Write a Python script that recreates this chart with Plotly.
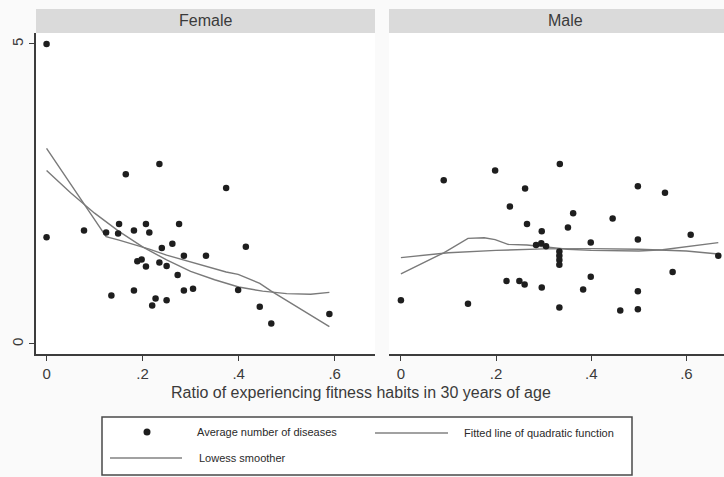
import plotly.graph_objects as go

# ---- data -------------------------------------------------------------
female_x = [0, 0, 0.078, 0.124, 0.135, 0.149, 0.151, 0.165, 0.182, 0.182, 0.189, 0.198,
            0.207, 0.207, 0.214, 0.22, 0.227, 0.235, 0.235, 0.24, 0.25, 0.25, 0.262,
            0.273, 0.276, 0.286, 0.286, 0.305, 0.332, 0.374, 0.399, 0.415, 0.444,
            0.468, 0.589]
female_y = [5.0, 1.78, 1.89, 1.86, 0.81, 1.84, 2.0, 2.83, 1.89, 0.89, 1.38, 1.41,
            2.0, 1.29, 1.86, 0.64, 0.76, 3.0, 1.36, 1.6, 1.3, 0.73, 1.67,
            1.15, 2.0, 1.47, 0.89, 0.92, 1.47, 2.6, 0.9, 1.62, 0.62,
            0.34, 0.5]

male_x = [0, 0.09, 0.141, 0.198, 0.222, 0.229, 0.249, 0.26, 0.261, 0.265, 0.284,
          0.295, 0.305, 0.296, 0.296, 0.333, 0.333, 0.333, 0.333, 0.333, 0.334,
          0.351, 0.362, 0.383, 0.399, 0.399, 0.445, 0.461, 0.498, 0.498, 0.498,
          0.498, 0.555, 0.571, 0.609, 0.667]
male_y = [0.73, 2.73, 0.67, 2.89, 1.05, 2.29, 1.05, 0.99, 2.59, 2.0, 1.65,
          1.68, 1.63, 1.88, 0.94, 1.54, 1.47, 1.4, 1.32, 0.61, 3.0,
          1.94, 2.18, 0.91, 1.69, 1.12, 2.09, 0.56, 2.63, 1.74, 0.88,
          0.58, 2.52, 1.2, 1.82, 1.47]

# fitted quadratic curves
female_qfit_x = [0, 0.05, 0.1, 0.15, 0.2, 0.25, 0.3, 0.35, 0.4, 0.45, 0.5, 0.55, 0.589]
female_qfit_y = [2.89, 2.52, 2.18, 1.88, 1.62, 1.40, 1.21, 1.07, 0.95, 0.88, 0.84, 0.83, 0.86]
male_qfit_x = [0, 0.1, 0.2, 0.3, 0.4, 0.5, 0.6, 0.667]
male_qfit_y = [1.44, 1.52, 1.56, 1.585, 1.59, 1.58, 1.55, 1.50]

# lowess smoothers
female_lowess_x = [0, 0.078, 0.124, 0.151, 0.182, 0.214, 0.25, 0.286, 0.332, 0.374,
                   0.399, 0.444, 0.468, 0.589]
female_lowess_y = [3.26, 2.33, 1.79, 1.73, 1.66, 1.58, 1.48, 1.40, 1.30, 1.20,
                   1.16, 1.01, 0.88, 0.29]
male_lowess_x = [0, 0.09, 0.141, 0.175, 0.198, 0.225, 0.265, 0.3, 0.35, 0.4, 0.45,
                 0.5, 0.55, 0.609, 0.667]
male_lowess_y = [1.17, 1.52, 1.76, 1.77, 1.74, 1.66, 1.65, 1.62, 1.58, 1.56, 1.55,
                 1.55, 1.57, 1.63, 1.69]

x_tickvals = [0, 0.2, 0.4, 0.6]
x_ticktext = ["0", ".2", ".4", ".6"]
y_tickvals = [0, 5]
y_ticktext = ["0", "5"]

panel_titles = ["Female", "Male"]
x_title = "Ratio of experiencing fitness habits in 30 years of age"
legend_labels = ["Average number of diseases", "Fitted line of quadratic function",
                 "Lowess smoother"]

# ---- styling ----------------------------------------------------------
W, H = 724, 477
FONT = "Liberation Sans, Arial, sans-serif"
TXT = "#3a3a3a"
DOT = "#1e1e1e"
LINE = "#7a7a7a"
AX = "#3c3c3c"


def px(x):
    return x / W


def py(y):
    return 1 - y / H


fig = go.Figure()

panels = [
    (female_x, female_y, female_qfit_x, female_qfit_y, female_lowess_x, female_lowess_y, "x", "y"),
    (male_x, male_y, male_qfit_x, male_qfit_y, male_lowess_x, male_lowess_y, "x2", "y2"),
]
for sx, sy, qx, qy, lx, ly, xa, ya in panels:
    fig.add_trace(go.Scatter(x=qx, y=qy, mode="lines", xaxis=xa, yaxis=ya,
                             line=dict(color=LINE, width=1.4), showlegend=False,
                             name=legend_labels[1]))
    fig.add_trace(go.Scatter(x=lx, y=ly, mode="lines", xaxis=xa, yaxis=ya,
                             line=dict(color=LINE, width=1.4), showlegend=False,
                             name=legend_labels[2]))
    fig.add_trace(go.Scatter(x=sx, y=sy, mode="markers", xaxis=xa, yaxis=ya,
                             marker=dict(color=DOT, size=6.5, line=dict(width=0)),
                             cliponaxis=False, showlegend=False,
                             name=legend_labels[0]))

ydom = [py(354), py(33)]
yrange = [-0.167, 5.183]
common_x = dict(tickvals=x_tickvals, ticktext=x_ticktext, ticks="outside",
                ticklen=5, tickwidth=1.3, tickcolor=AX, showline=True, linecolor=AX,
                linewidth=1.5, showgrid=False, zeroline=False, ticklabelstandoff=0,
                tickfont=dict(family=FONT, size=15, color=TXT))

fig.update_layout(
    width=W, height=H,
    margin=dict(l=0, r=0, t=0, b=0),
    paper_bgcolor="#fafafa",
    plot_bgcolor="#ffffff",
    xaxis={**common_x, "domain": [px(36), px(375)], "range": [-0.022, 0.684], "anchor": "y"},
    xaxis2={**common_x, "domain": [px(389), 1.0], "range": [-0.025, 0.679], "anchor": "y2"},
    yaxis=dict(domain=ydom, range=yrange, tickvals=y_tickvals, ticktext=y_ticktext,
               ticks="outside", ticklen=5, tickwidth=1.3, tickcolor=AX, showline=True,
               linecolor=AX, linewidth=1.8, showgrid=False, zeroline=False,
               tickangle=-90, ticklabelstandoff=0, anchor="x",
               tickfont=dict(family=FONT, size=15, color=TXT)),
    yaxis2=dict(domain=ydom, range=yrange, showticklabels=False, ticks="",
                showline=False, showgrid=False, zeroline=False, anchor="x2"),
    showlegend=False,
)

shapes = []
annotations = []

# panel strips
for (x0, x1), title in zip([(36, 375), (389, 741)], panel_titles):
    shapes.append(dict(type="rect", xref="paper", yref="paper", x0=px(x0), x1=min(px(x1), 1.0),
                       y0=py(33), y1=py(9), fillcolor="#dadada", line=dict(width=0),
                       layer="below"))
    annotations.append(dict(text=title, xref="paper", yref="paper", x=px((x0 + x1) / 2),
                            y=py(21), xanchor="center", yanchor="middle", showarrow=False,
                            font=dict(family=FONT, size=16, color=TXT)))

# axis title
annotations.append(dict(text=x_title, xref="paper", yref="paper", x=px(361), y=py(392),
                        xanchor="center", yanchor="middle", showarrow=False,
                        font=dict(family=FONT, size=16, color=TXT)))

# legend box
shapes.append(dict(type="rect", xref="paper", yref="paper", x0=px(102), x1=px(632),
                   y0=py(475), y1=py(417), fillcolor="#ffffff",
                   line=dict(color="#4a4a4a", width=1.5)))
# marker key
r = 3.5
shapes.append(dict(type="circle", xref="paper", yref="paper", x0=px(147 - r), x1=px(147 + r),
                   y0=py(432 + r), y1=py(432 - r), fillcolor=DOT, line=dict(width=0)))
# line keys
shapes.append(dict(type="line", xref="paper", yref="paper", x0=px(375), x1=px(448),
                   y0=py(433), y1=py(433), line=dict(color="#444444", width=1.2)))
shapes.append(dict(type="line", xref="paper", yref="paper", x0=px(110), x1=px(182),
                   y0=py(458), y1=py(458), line=dict(color="#444444", width=1.2)))
for (lx, ly), label in zip([(195, 432), (462, 433), (197, 458)], legend_labels):
    annotations.append(dict(text=label, xref="paper", yref="paper", x=px(lx), y=py(ly),
                            xanchor="left", yanchor="middle", showarrow=False,
                            font=dict(family=FONT, size=11, color="#2a2a2a")))

fig.update_layout(shapes=shapes, annotations=annotations)

fig.write_html("out.html")
